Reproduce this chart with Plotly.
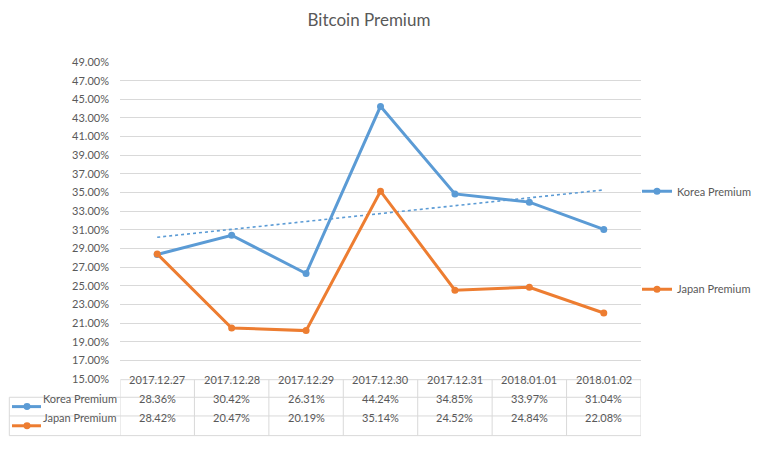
import plotly.graph_objects as go
import numpy as np

# ---- data ----
dates = ["2017.12.27", "2017.12.28", "2017.12.29", "2017.12.30",
         "2017.12.31", "2018.01.01", "2018.01.02"]
korea = [28.36, 30.42, 26.31, 44.24, 34.85, 33.97, 31.04]
japan = [28.42, 20.47, 20.19, 35.14, 24.52, 24.84, 22.08]
y_ticks = list(range(15, 50, 2))
series_names = ["Korea Premium", "Japan Premium"]

# ---- style / layout ----
W, H = 757, 454
L, R, T, B = 120, 116, 61.5, 75
PW, PH = W - L - R, H - T - B
BLUE, ORANGE = "#5B9BD5", "#ED7D31"
GRID = "#D9D9D9"
TXT = "#595959"
FONT = "Lato"


def px_x(px):
    return (px - L) / PW


def px_y(py):
    return (H - B - py) / PH


xs = list(range(len(dates)))
k = [v / 100 for v in korea]
j = [v / 100 for v in japan]

# linear trendline for Korea
slope, icpt = np.polyfit(xs, k, 1)
trend = [icpt + slope * x for x in xs]

fig = go.Figure()
fig.add_trace(go.Scatter(x=xs, y=trend, mode="lines", showlegend=False,
                         line=dict(color=BLUE, width=1.6, dash="dot"),
                         hoverinfo="skip"))
fig.add_trace(go.Scatter(x=xs, y=k, mode="lines+markers", name=series_names[0],
                         line=dict(color=BLUE, width=3),
                         marker=dict(size=7, color=BLUE), legend="legend"))
fig.add_trace(go.Scatter(x=xs, y=j, mode="lines+markers", name=series_names[1],
                         line=dict(color=ORANGE, width=3),
                         marker=dict(size=7, color=ORANGE), legend="legend2"))

shapes = []
annotations = []
# table geometry (pixels)
y_top, y_h, y_r1, y_bot = 379.7, 397.3, 416.0, 435.7
x_left, x_first, x_right = 9.3, 120.5, 641

def hline(py, x0px, x1px):
    shapes.append(dict(type="line", xref="paper", yref="paper",
                       x0=px_x(x0px), x1=px_x(x1px), y0=px_y(py), y1=px_y(py),
                       line=dict(color=GRID, width=1)))

def vline_data(xd, y0px, y1px):
    shapes.append(dict(type="line", xref="x", yref="paper",
                       x0=xd, x1=xd, y0=px_y(y0px), y1=px_y(y1px),
                       line=dict(color=GRID, width=1)))

hline(y_top, x_first, x_right)
for py in (y_h, y_r1, y_bot):
    hline(py, x_left, x_right)
for i in range(len(dates) + 1):
    vline_data(i - 0.5, y_top, y_bot)
shapes.append(dict(type="line", xref="paper", yref="paper",
                   x0=px_x(x_left), x1=px_x(x_left), y0=px_y(y_h), y1=px_y(y_bot),
                   line=dict(color=GRID, width=1)))

# header + values
for i, d in enumerate(dates):
    annotations.append(dict(x=i, y=px_y((y_top + y_h) / 2), xref="x", yref="paper",
                            text=d, showarrow=False, font=dict(size=11, color=TXT, family=FONT)))
    annotations.append(dict(x=i, y=px_y((y_h + y_r1) / 2), xref="x", yref="paper",
                            text=f"{korea[i]:.2f}%", showarrow=False,
                            font=dict(size=11, color=TXT, family=FONT)))
    annotations.append(dict(x=i, y=px_y((y_r1 + y_bot) / 2), xref="x", yref="paper",
                            text=f"{japan[i]:.2f}%", showarrow=False,
                            font=dict(size=11, color=TXT, family=FONT)))

# row labels with legend keys
for name, col, (ya, yb) in ((series_names[0], BLUE, (y_h, y_r1)),
                            (series_names[1], ORANGE, (y_r1, y_bot))):
    yc = (ya + yb) / 2
    shapes.append(dict(type="line", xref="paper", yref="paper",
                       x0=px_x(12), x1=px_x(41), y0=px_y(yc), y1=px_y(yc),
                       line=dict(color=col, width=3)))
    shapes.append(dict(type="circle", xref="paper", yref="paper",
                       x0=px_x(23.5), x1=px_x(30.5), y0=px_y(yc + 3.5), y1=px_y(yc - 3.5),
                       fillcolor=col, line=dict(color=col, width=0)))
    annotations.append(dict(x=px_x(41), y=px_y(yc), xref="paper", yref="paper",
                            xanchor="left", text=name, showarrow=False,
                            font=dict(size=11, color=TXT, family=FONT)))

fig.update_layout(
    width=W, height=H,
    margin=dict(l=L, r=R, t=T, b=B, autoexpand=False),
    paper_bgcolor="white", plot_bgcolor="white",
    font=dict(family=FONT, color=TXT, size=11),
    title=dict(text="Bitcoin Premium", x=369 / W, xref="container", xanchor="center",
               y=1 - 20.5 / H, yref="container", yanchor="middle",
               font=dict(size=17, color=TXT, family=FONT)),
    xaxis=dict(range=[-0.5, len(dates) - 0.5], showticklabels=False, showgrid=False,
               zeroline=False, showline=False, ticks=""),
    yaxis=dict(range=[0.15, 0.49], tickvals=[v / 100 for v in y_ticks], tickformat=".2%",
               showgrid=True, gridcolor=GRID, gridwidth=1, zeroline=False,
               showline=False, ticks="", ticklabelstandoff=10,
               tickfont=dict(size=11, color=TXT, family=FONT)),
    legend=dict(x=px_x(637), y=px_y(191), xanchor="left", yanchor="middle",
                font=dict(size=11, color=TXT, family=FONT), bgcolor="rgba(0,0,0,0)"),
    legend2=dict(x=px_x(637), y=px_y(289), xanchor="left", yanchor="middle",
                 font=dict(size=11, color=TXT, family=FONT), bgcolor="rgba(0,0,0,0)"),
    shapes=shapes, annotations=annotations,
)

fig.write_html("out.html")
